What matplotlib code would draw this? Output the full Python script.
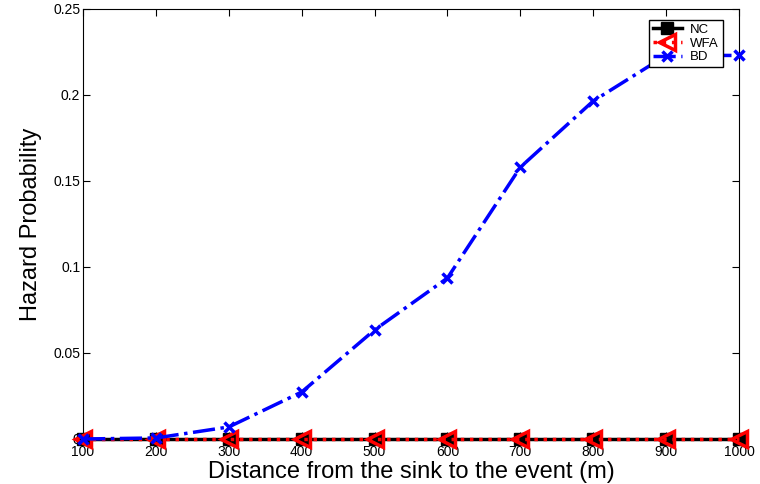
import matplotlib
matplotlib.use("Agg")
import matplotlib.pyplot as plt

plt.rcParams['font.family'] = ['Liberation Sans', 'DejaVu Sans']

# distance from sink to event (m)
distance = [100, 200, 300, 400, 500, 600, 700, 800, 900, 1000]
nc = [0, 0, 0, 0, 0, 0, 0, 0, 0, 0]
wfa = [0, 0, 0, 0, 0, 0, 0, 0, 0, 0]
bd = [0.0, 0.0006, 0.007, 0.0273, 0.0634, 0.0936, 0.158, 0.1965, 0.223, 0.223]

xticks = [100, 200, 300, 400, 500, 600, 700, 800, 900, 1000]
yticks = [0, 0.05, 0.1, 0.15, 0.2, 0.25]
ytick_labels = ['0', '0.05', '0.1', '0.15', '0.2', '0.25']

fig = plt.figure(figsize=(7.6, 4.84), dpi=100)
ax = fig.add_axes([83 / 760, 45 / 484, 656 / 760, 430 / 484])

ax.plot(distance, nc, color='black', linestyle='-', linewidth=2.5,
        marker='s', markersize=9, markerfacecolor='black', label='NC',
        clip_on=False, zorder=3)
ax.plot(distance, wfa, color='red', linestyle=':', linewidth=2.5,
        marker='<', markersize=11, markerfacecolor='none',
        markeredgewidth=2.5, label='WFA', clip_on=False, zorder=4)
ax.plot(distance, bd, color='blue', linestyle='-.', linewidth=2.5,
        marker='x', markersize=7, markeredgewidth=2.5, label='BD',
        clip_on=False, zorder=5)

ax.set_xlim(100, 1000)
ax.set_ylim(0, 0.25)
ax.set_xticks(xticks)
ax.set_yticks(yticks)
ax.set_yticklabels(ytick_labels)
ax.tick_params(direction='in', length=5, labelsize=10, top=True, right=True,
               pad=2)
ax.tick_params(axis='x', pad=4)

ax.set_xlabel('Distance from the sink to the event (m)', fontsize=17,
              labelpad=2)
ax.set_ylabel('Hazard Probability', fontsize=17, labelpad=8)

leg = ax.legend(loc='upper right', bbox_to_anchor=(0.985, 0.99), fontsize=9.5,
                frameon=True, fancybox=False, edgecolor='black',
                handlelength=2.2, borderpad=0.3, labelspacing=0.1,
                handletextpad=0.6, framealpha=1)
leg.get_frame().set_linewidth(1)
leg.set_zorder(10)

fig.savefig('out.png', dpi=100)
